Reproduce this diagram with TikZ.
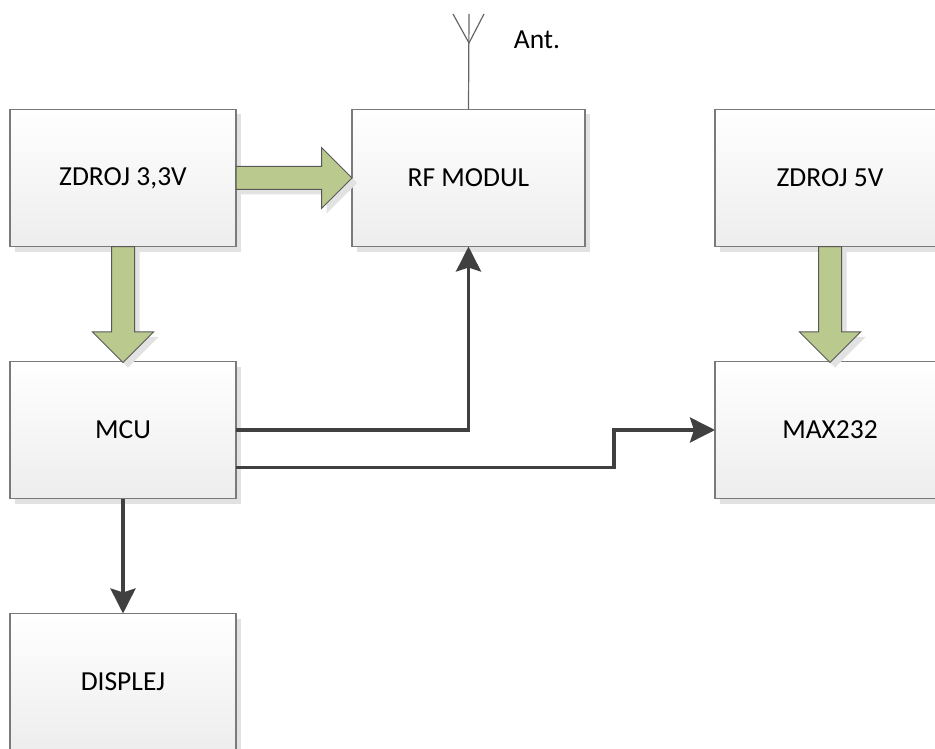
\documentclass[tikz,border=0pt]{standalone}
\usepackage{fontspec}
\setmainfont{Carlito}
\usetikzlibrary{arrows.meta,shapes.arrows,shadows}
\definecolor{boxline}{RGB}{122,122,122}
\definecolor{flow}{RGB}{186,201,142}
\definecolor{flowline}{RGB}{88,88,88}
\definecolor{wire}{RGB}{64,64,64}
\definecolor{shade}{RGB}{226,226,226}

\begin{document}
\begin{tikzpicture}[x=1pt,y=-1pt,
		blok/.style={draw=boxline,line width=1.3pt,top color=white,bottom color=black!7,
			minimum width=226pt,minimum height=137pt,inner sep=0pt,outer sep=0pt,
			font=\fontsize{27.5}{32}\selectfont,
			drop shadow={shadow xshift=5pt,shadow yshift=-5pt,fill=shade,opacity=1}},
		power/.style={single arrow,draw=flowline,fill=flow,line width=1pt,inner sep=11pt,outer sep=0pt,
			minimum width=60pt,minimum height=116pt,single arrow head extend=19pt,single arrow tip angle=90,
			anchor=tail,drop shadow={shadow xshift=5pt,shadow yshift=-5pt,fill=shade,opacity=1}},
		link/.style={draw=wire,line width=3.5pt,-{Stealth[length=25pt,width=25pt,inset=4pt]}},
		aerial/.style={draw=black!60,line width=1.2pt}]
		\useasboundingbox (0,0) rectangle (935,749);
		\clip (0,0) rectangle (935,749);
		
		\node[blok] (z33) at (123,178) {ZDROJ 3,3V};
		\node[blok,minimum width=233pt] (rf) at (468.5,178) {RF MODUL};
		\node[blok,minimum width=230pt] (z5) at (830,178) {ZDROJ 5V};
		\node[blok] (mcu) at (123,430) {MCU};
		\node[blok,minimum width=230pt] (max) at (830,430) {MAX232};
		\node[blok] (disp) at (123,682) {DISPLEJ};
		\node[font=\fontsize{27.5}{32}\selectfont] (ant) at (537,40) {Ant.};
		
		\node[power] (p1) at (z33.east) {};
		\node[power,shape border rotate=270] (p2) at (z33.south) {};
		\node[power,shape border rotate=270] (p3) at (z5.south) {};
		
		\coordinate (mast) at (469,14);
		\coordinate (feed) at (469,43);
		\coordinate (antL) at (453,14);
		\coordinate (antR) at (484,14);
		\draw[aerial] (rf.north) -- (mast);
		\draw[aerial] (antL) -- (feed) -- (antR);
		
		\draw[link] (mcu.east) -| (rf.south);
		\draw[link] ([yshift=31pt]mcu.south east) -- ++(378,0) |- (max.west);
		\draw[link] (mcu.south) -- (disp.north);
	\end{tikzpicture}
\end{document}
